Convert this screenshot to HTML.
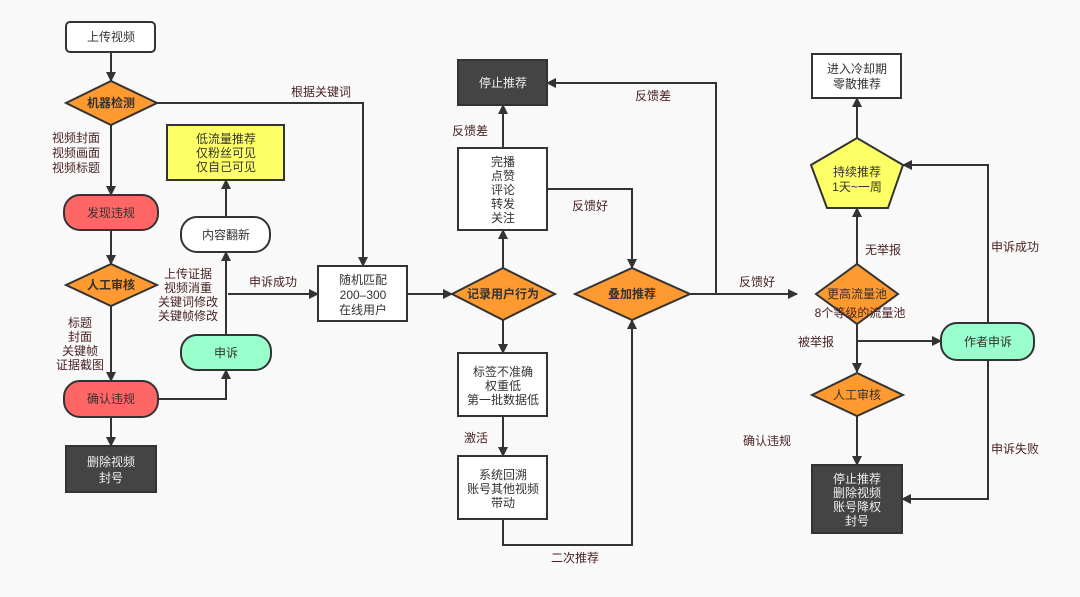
<!DOCTYPE html>
<html><head><meta charset="utf-8"><style>
html,body{margin:0;padding:0;background:#f9f9f9}
svg{display:block}
text{font-family:"Liberation Sans","Noto Sans CJK SC",sans-serif;font-size:12px;text-anchor:middle}
.n{fill:#333}
.w{fill:#eee}
.l{fill:#4a2424}
.ln{stroke:#333;stroke-width:2;fill:none}
.b{stroke:#333;stroke-width:2}
</style></head><body>
<svg width="1080" height="597" viewBox="0 0 1080 597" xmlns="http://www.w3.org/2000/svg">
<defs><marker id="a" markerWidth="10" markerHeight="10" refX="9" refY="5" orient="auto" markerUnits="userSpaceOnUse"><path d="M0,0 L10,5 L0,10 z" fill="#333"/></marker></defs>

<!-- connectors -->
<g class="ln">
<path d="M111,52 V81" marker-end="url(#a)"/>
<path d="M111,125 V195" marker-end="url(#a)"/>
<path d="M157,103 H363 V266" marker-end="url(#a)"/>
<path d="M111,230 V264" marker-end="url(#a)"/>
<path d="M111,306 V381" marker-end="url(#a)"/>
<path d="M111,417 V446" marker-end="url(#a)"/>
<path d="M158,399 H226 V370" marker-end="url(#a)"/>
<path d="M226,335 V252" marker-end="url(#a)"/>
<path d="M228,294 H318" marker-end="url(#a)"/>
<path d="M226,217 V180" marker-end="url(#a)"/>
<path d="M407,294 H452" marker-end="url(#a)"/>
<path d="M503,268 V230" marker-end="url(#a)"/>
<path d="M503,320 V353" marker-end="url(#a)"/>
<path d="M503,416 V456" marker-end="url(#a)"/>
<path d="M503,519 V545 H632 V320" marker-end="url(#a)"/>
<path d="M503,148 V105" marker-end="url(#a)"/>
<path d="M547,189 H632 V268" marker-end="url(#a)"/>
<path d="M690,294 H716 V83 H547" marker-end="url(#a)"/>
<path d="M716,294 H797" marker-end="url(#a)"/>
<path d="M857,264 V208" marker-end="url(#a)"/>
<path d="M857,138 V98" marker-end="url(#a)"/>
<path d="M857,324 V372" marker-end="url(#a)"/>
<path d="M857,341 H941" marker-end="url(#a)"/>
<path d="M988,323 V165 H903" marker-end="url(#a)"/>
<path d="M988,360 V499 H902" marker-end="url(#a)"/>
<path d="M857,416 V465" marker-end="url(#a)"/>
</g>

<!-- nodes -->
<rect x="66" y="22" width="89" height="30" rx="4" fill="#fff" class="b"/>
<text x="111" y="41" class="n">上传视频</text>

<polygon points="66,103 111,81 157,103 111,125" fill="#ff9a30" class="b"/>
<text x="111" y="107" class="n" font-weight="bold">机器检测</text>

<rect x="64" y="195" width="94" height="35" rx="16" fill="#ff6666" class="b"/>
<text x="111" y="217" class="n">发现违规</text>

<polygon points="66,285 111,264 157,285 111,306" fill="#ff9a30" class="b"/>
<text x="111" y="289" class="n" font-weight="bold">人工审核</text>

<rect x="64" y="381" width="94" height="36" rx="16" fill="#ff6666" class="b"/>
<text x="111" y="403" class="n">确认违规</text>

<rect x="66" y="446" width="90" height="46" fill="#444" class="b"/>
<text x="111" y="466" class="w">删除视频</text>
<text x="111" y="482" class="w">封号</text>

<rect x="167" y="125" width="117" height="55" fill="#ffff66" class="b"/>
<text x="226" y="143" class="n">低流量推荐</text>
<text x="226" y="157" class="n">仅粉丝可见</text>
<text x="226" y="171" class="n">仅自己可见</text>

<rect x="181" y="217" width="89" height="35" rx="16" fill="#fff" class="b"/>
<text x="226" y="239" class="n">内容翻新</text>

<rect x="181" y="335" width="90" height="35" rx="16" fill="#99ffcc" class="b"/>
<text x="226" y="357" class="n">申诉</text>

<rect x="318" y="266" width="89" height="55" fill="#fff" class="b"/>
<text x="363" y="284" class="n">随机匹配</text>
<text x="363" y="299" class="n">200–300</text>
<text x="363" y="314" class="n">在线用户</text>

<polygon points="452,294 503,268 555,294 503,320" fill="#ff9a30" class="b"/>
<text x="503" y="298" class="n" font-weight="bold">记录用户行为</text>

<rect x="458" y="148" width="89" height="82" fill="#fff" class="b"/>
<text x="503" y="166" class="n">完播</text>
<text x="503" y="180" class="n">点赞</text>
<text x="503" y="194" class="n">评论</text>
<text x="503" y="208" class="n">转发</text>
<text x="503" y="222" class="n">关注</text>

<rect x="458" y="60" width="89" height="45" fill="#444" class="b"/>
<text x="503" y="87" class="w">停止推荐</text>

<polygon points="575,294 632,268 690,294 632,320" fill="#ff9a30" class="b"/>
<text x="632" y="298" class="n" font-weight="bold">叠加推荐</text>

<rect x="458" y="353" width="89" height="63" fill="#fff" class="b"/>
<text x="503" y="376" class="n">标签不准确</text>
<text x="503" y="390" class="n">权重低</text>
<text x="503" y="404" class="n">第一批数据低</text>

<rect x="458" y="456" width="89" height="63" fill="#fff" class="b"/>
<text x="503" y="479" class="n">系统回溯</text>
<text x="503" y="493" class="n">账号其他视频</text>
<text x="503" y="507" class="n">带动</text>

<rect x="812" y="54" width="89" height="44" fill="#fff" class="b"/>
<text x="857" y="73" class="n">进入冷却期</text>
<text x="857" y="88" class="n">零散推荐</text>

<polygon points="857,138 903,165 888,208 827,208 811,165" fill="#ffff66" class="b"/>
<text x="857" y="176" class="n">持续推荐</text>
<text x="857" y="191" class="n">1天~一周</text>

<polygon points="816,294 857,264 898,294 857,324" fill="#ff9a30" class="b"/>
<text x="857" y="298" class="n">更高流量池</text>
<text x="860" y="317" class="l">8个等级的流量池</text>

<rect x="941" y="323" width="93" height="37" rx="16" fill="#99ffcc" class="b"/>
<text x="988" y="346" class="n">作者申诉</text>

<polygon points="812,395 857,373 903,395 857,416" fill="#ff9a30" class="b"/>
<text x="857" y="399" class="n">人工审核</text>

<rect x="812" y="465" width="90" height="68" fill="#444" class="b"/>
<text x="857" y="483" class="w">停止推荐</text>
<text x="857" y="497" class="w">删除视频</text>
<text x="857" y="511" class="w">账号降权</text>
<text x="857" y="525" class="w">封号</text>

<!-- labels -->
<text x="76" y="142" class="l">视频封面</text>
<text x="76" y="157" class="l">视频画面</text>
<text x="76" y="172" class="l">视频标题</text>
<text x="321" y="96" class="l">根据关键词</text>
<text x="80" y="327" class="l">标题</text>
<text x="80" y="341" class="l">封面</text>
<text x="80" y="355" class="l">关键帧</text>
<text x="80" y="369" class="l">证据截图</text>
<text x="188" y="278" class="l">上传证据</text>
<text x="188" y="292" class="l">视频消重</text>
<text x="188" y="306" class="l">关键词修改</text>
<text x="188" y="320" class="l">关键帧修改</text>
<text x="273" y="286" class="l">申诉成功</text>
<text x="470" y="135" class="l">反馈差</text>
<text x="590" y="210" class="l">反馈好</text>
<text x="653" y="100" class="l">反馈差</text>
<text x="757" y="286" class="l">反馈好</text>
<text x="476" y="442" class="l">激活</text>
<text x="575" y="562" class="l">二次推荐</text>
<text x="883" y="254" class="l">无举报</text>
<text x="816" y="346" class="l">被举报</text>
<text x="1015" y="251" class="l">申诉成功</text>
<text x="1015" y="453" class="l">申诉失败</text>
<text x="767" y="445" class="l">确认违规</text>
</svg>
</body></html>
